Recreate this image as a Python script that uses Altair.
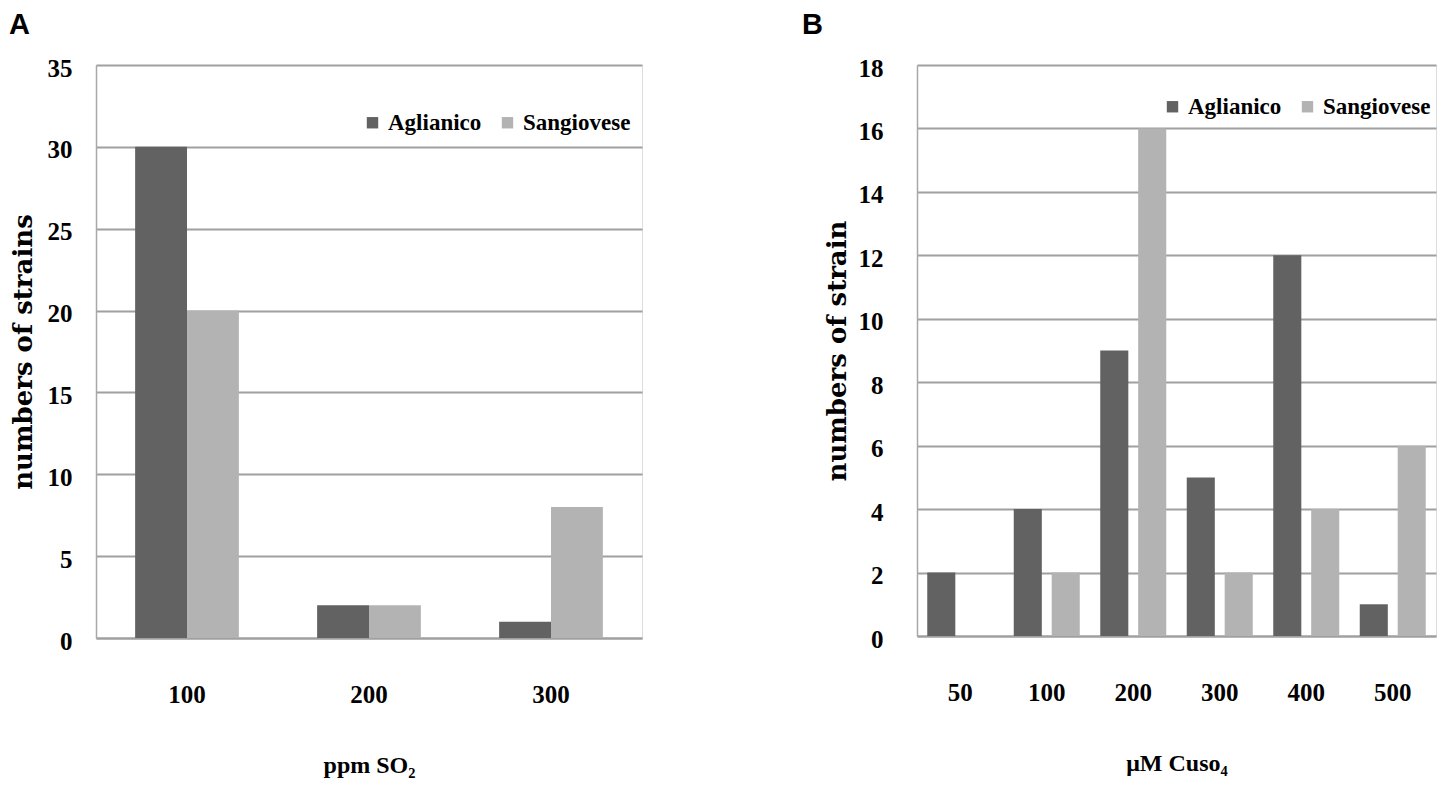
import altair as alt
import pandas as pd

# ---- data ----
varieties = ["Aglianico", "Sangiovese"]
variety_colors = ["#626262", "#b3b3b3"]

so2_levels = ["100", "200", "300"]
so2_aglianico = [30, 2, 1]
so2_sangiovese = [20, 2, 8]

cuso4_levels = ["50", "100", "200", "300", "400", "500"]
cuso4_aglianico = [2, 4, 9, 5, 12, 1]
cuso4_sangiovese = [0, 2, 16, 2, 4, 6]

SERIF = "Liberation Serif"
TITLE_SERIF = "DejaVu Serif"


def to_long(levels, ag, sg):
    rows = []
    for lv, a, s in zip(levels, ag, sg):
        rows.append({"level": lv, "variety": varieties[0], "n": a})
        rows.append({"level": lv, "variety": varieties[1], "n": s})
    return pd.DataFrame(rows)


def panel(df, levels, ymax, ystep, ytitle, xtitle, letter, letter_dx, w, h,
          pad_in, off_pad, legx, legy, ylabel_pad, ytitle_pad):
    color = alt.Color(
        "variety:N",
        scale=alt.Scale(domain=varieties, range=variety_colors),
        legend=alt.Legend(
            title=None, orient="none", legendX=legx, legendY=legy,
            direction="horizontal", symbolType="square", symbolSize=130,
            symbolStrokeWidth=0, labelFont=SERIF, labelFontSize=23,
            labelFontWeight="bold", labelColor="black", columnPadding=14,
            labelOffset=4, padding=0,
        ),
    )
    return (
        alt.Chart(
            df,
            title=alt.Title(letter, anchor="start", frame="bounds",
                            font="Liberation Sans", fontSize=29,
                            fontWeight="bold", color="black", offset=16,
                            dx=letter_dx),
        )
        .mark_bar()
        .encode(
            x=alt.X(
                "level:N", sort=levels,
                scale=alt.Scale(paddingInner=pad_in, paddingOuter=pad_in / 2),
                axis=alt.Axis(
                    title=xtitle, labelAngle=0, ticks=False, grid=False,
                    domain=True, domainColor="#a0a0a0", domainWidth=2,
                    labelFont=SERIF, labelFontSize=25, labelFontWeight="bold",
                    labelColor="black", labelPadding=44,
                    titleFont=SERIF, titleFontSize=24, titleFontWeight="bold",
                    titleColor="black", titlePadding=46,
                ),
            ),
            xOffset=alt.XOffset(
                "variety:N", sort=varieties,
                scale=alt.Scale(paddingInner=off_pad, paddingOuter=0),
            ),
            y=alt.Y(
                "n:Q",
                scale=alt.Scale(domain=[0, ymax], nice=False),
                axis=alt.Axis(
                    title=ytitle, values=list(range(0, ymax + 1, ystep)),
                    ticks=False, grid=True, gridColor="#a0a0a0", gridWidth=2,
                    domain=True, domainColor="#a8a8a8", domainWidth=1.5,
                    labelFont=SERIF, labelFontSize=25, labelFontWeight="bold",
                    labelColor="black", labelPadding=ylabel_pad, labelOffset=3,
                    titleFont=TITLE_SERIF, titleFontSize=26,
                    titleFontWeight="bold", titleColor="black",
                    titlePadding=ytitle_pad,
                ),
            ),
            color=color,
        )
        .properties(width=w, height=h)
    )


left = panel(
    to_long(so2_levels, so2_aglianico, so2_sangiovese), so2_levels,
    35, 5, "numbers of strains", "ppm SO₂", "A", -1, 546, 573,
    0.43, 0.0, 265, 46, 24, 11,
)
right = panel(
    to_long(cuso4_levels, cuso4_aglianico, cuso4_sangiovese), cuso4_levels,
    18, 2, "numbers of strain", "μM Cuso₄", "B", -22, 519, 571,
    0.237, 0.26, 244, 30, 34, 8,
)

chart = (
    alt.hconcat(left, right, spacing=158)
    .resolve_legend(color="independent")
    .resolve_scale(color="shared", xOffset="independent", x="independent",
                   y="independent")
    .configure_view(stroke=None)
    .configure(padding={"left": 0, "right": 0, "top": 2, "bottom": 0},
               background="white")
)

chart.save("out.html", embed_options={"renderer": "svg", "actions": False})
